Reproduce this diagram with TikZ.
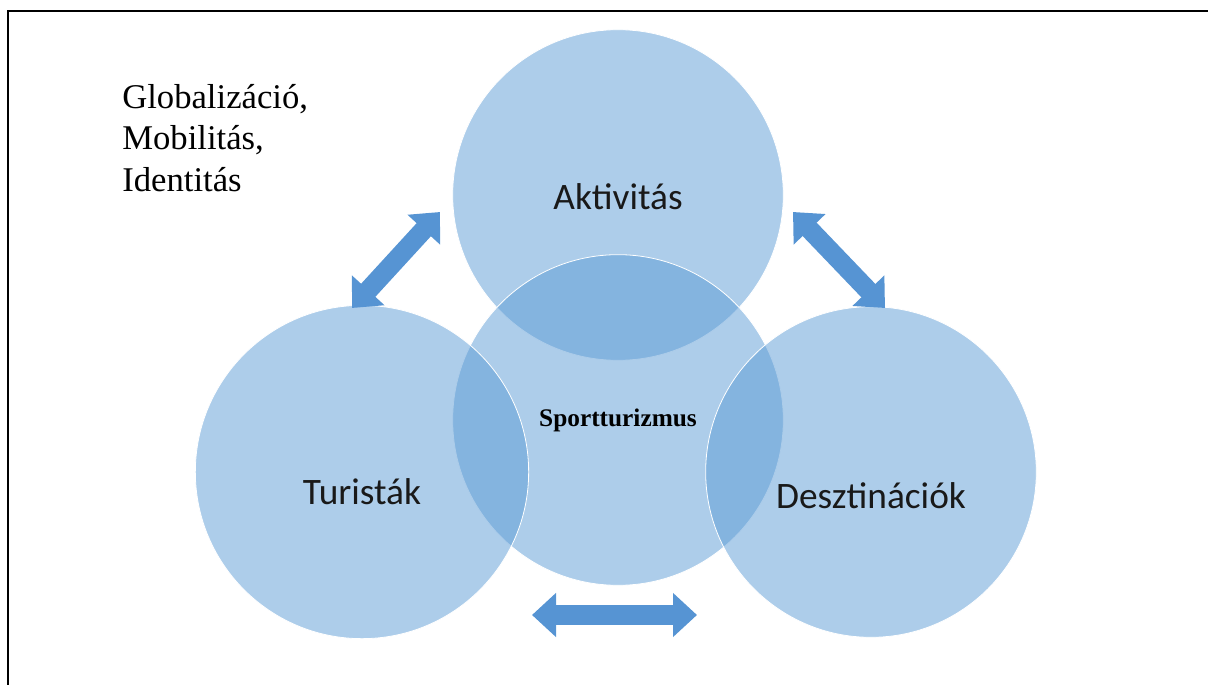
\documentclass[tikz,border=0pt]{standalone}
\usepackage{fontspec}
\setmainfont{Liberation Serif}
\newfontfamily\calib{Carlito}
\usepackage{tikz}
\usetikzlibrary{arrows.meta}
\usetikzlibrary{positioning}
\definecolor{circblue}{RGB}{91,155,213}
\definecolor{arrblue}{RGB}{86,148,211}
\tikzset{%
  bubble/.style = {circle, fill=circblue, fill opacity=0.5, draw=white, line width=0.6pt, minimum size=248pt, inner sep=0pt},
  bigtext/.style = {font=\calib\fontsize{28}{32}\selectfont, text=black!90},
  blockarrow/.style = {draw=arrblue, line width=14.5pt, {Triangle[length=18pt,width=32pt]}-{Triangle[length=18pt,width=32pt]}}
}

\begin{document}
\begin{tikzpicture}[x=0.75pt, y=-0.75pt]
  \useasboundingbox (0,0) rectangle (1208,685);
  \draw[line width=1.6pt] (8,685) -- (8,11) -- (1208,11);

  % circles
  \node (aktiv) [bubble] at (618,195) {};
  \node (sport) [bubble] at (618,420) {};
  \node (turist) [bubble, minimum size=250pt] at (362,472) {};
  \node (deszt) [bubble] at (871,472) {};

  % texts
  \node (aktiv-txt) [bigtext] at ([yshift=-1pt]aktiv.center) {Aktivitás};
  \node (sport-txt) [font=\bfseries\fontsize{19}{22}\selectfont] at (618,420) {Sportturizmus};
  \node (turist-txt) [bigtext] at ([yshift=-15pt]turist.center) {Turisták};
  \node (deszt-txt) [bigtext] at ([yshift=-18pt]deszt.center) {Desztinációk};
  \node (global) [align=left, anchor=north west, font=\fontsize{26}{31}\selectfont, inner sep=0pt] at (122,84) {Globalizáció,\\Mobilitás,\\Identitás};

  % arrows
  \coordinate (a1) at (352,308);
  \coordinate (a2) at (440,212);
  \coordinate (b1) at (793,212);
  \coordinate (b2) at (885,308);
  \coordinate (c1) at (532,615);
  \coordinate (c2) at (697,615);
  \draw[blockarrow] (a1) -- (a2);
  \draw[blockarrow] (b1) -- (b2);
  \draw[blockarrow] (c1) -- (c2);
\end{tikzpicture}
\end{document}
